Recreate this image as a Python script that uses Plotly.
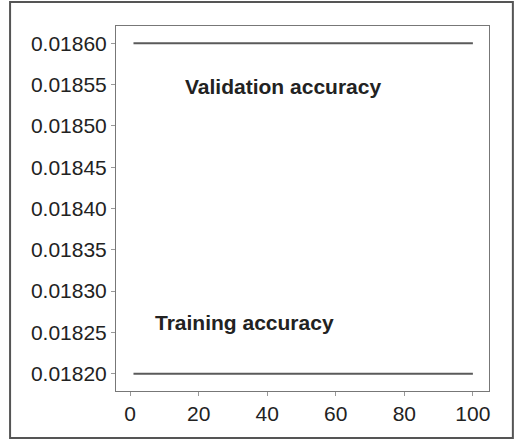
import plotly.graph_objects as go

epochs = list(range(1, 101))
training_accuracy = [0.01820] * 100
validation_accuracy = [0.01860] * 100
y_ticks = [0.01820, 0.01825, 0.01830, 0.01835, 0.01840, 0.01845, 0.01850, 0.01855, 0.01860]
x_ticks = [0, 20, 40, 60, 80, 100]

line_color = "#5a5a5a"
font_family = "Liberation Sans, Arial"
fig = go.Figure()
fig.add_trace(go.Scatter(x=epochs, y=training_accuracy, mode="lines",
                         line=dict(color=line_color, width=2), name="Training accuracy"))
fig.add_trace(go.Scatter(x=epochs, y=validation_accuracy, mode="lines",
                         line=dict(color=line_color, width=2), name="Validation accuracy"))

fig.add_annotation(x=44.5, y=0.018548, text="<b>Validation accuracy</b>", showarrow=False,
                   font=dict(size=21, color="#222222", family=font_family))
fig.add_annotation(x=33.5, y=0.018262, text="<b>Training accuracy</b>", showarrow=False,
                   font=dict(size=21, color="#222222", family=font_family))

fig.add_shape(type="rect", xref="paper", yref="paper", x0=-0.284, x1=1.064, y0=-0.129, y1=1.066,
              line=dict(color="#555555", width=2), layer="below")

axis_common = dict(showgrid=False, zeroline=False, showline=True, linecolor="#777777", linewidth=1,
                   mirror=True, ticks="outside", ticklen=4, tickcolor="#999999",
                   tickfont=dict(size=21, color="#222222", family=font_family))
fig.update_xaxes(range=[-4.1, 104.7], tickvals=x_ticks, **axis_common)
fig.update_yaxes(range=[0.018179, 0.018621], tickvals=y_ticks, tickformat=".5f", **axis_common)

fig.update_layout(width=516, height=440, margin=dict(l=116, r=27, t=26, b=49),
                  plot_bgcolor="white", paper_bgcolor="white", showlegend=False)
fig.write_html("out.html", post_script="document.body.style.margin='0';",
               config={"displayModeBar": False})
